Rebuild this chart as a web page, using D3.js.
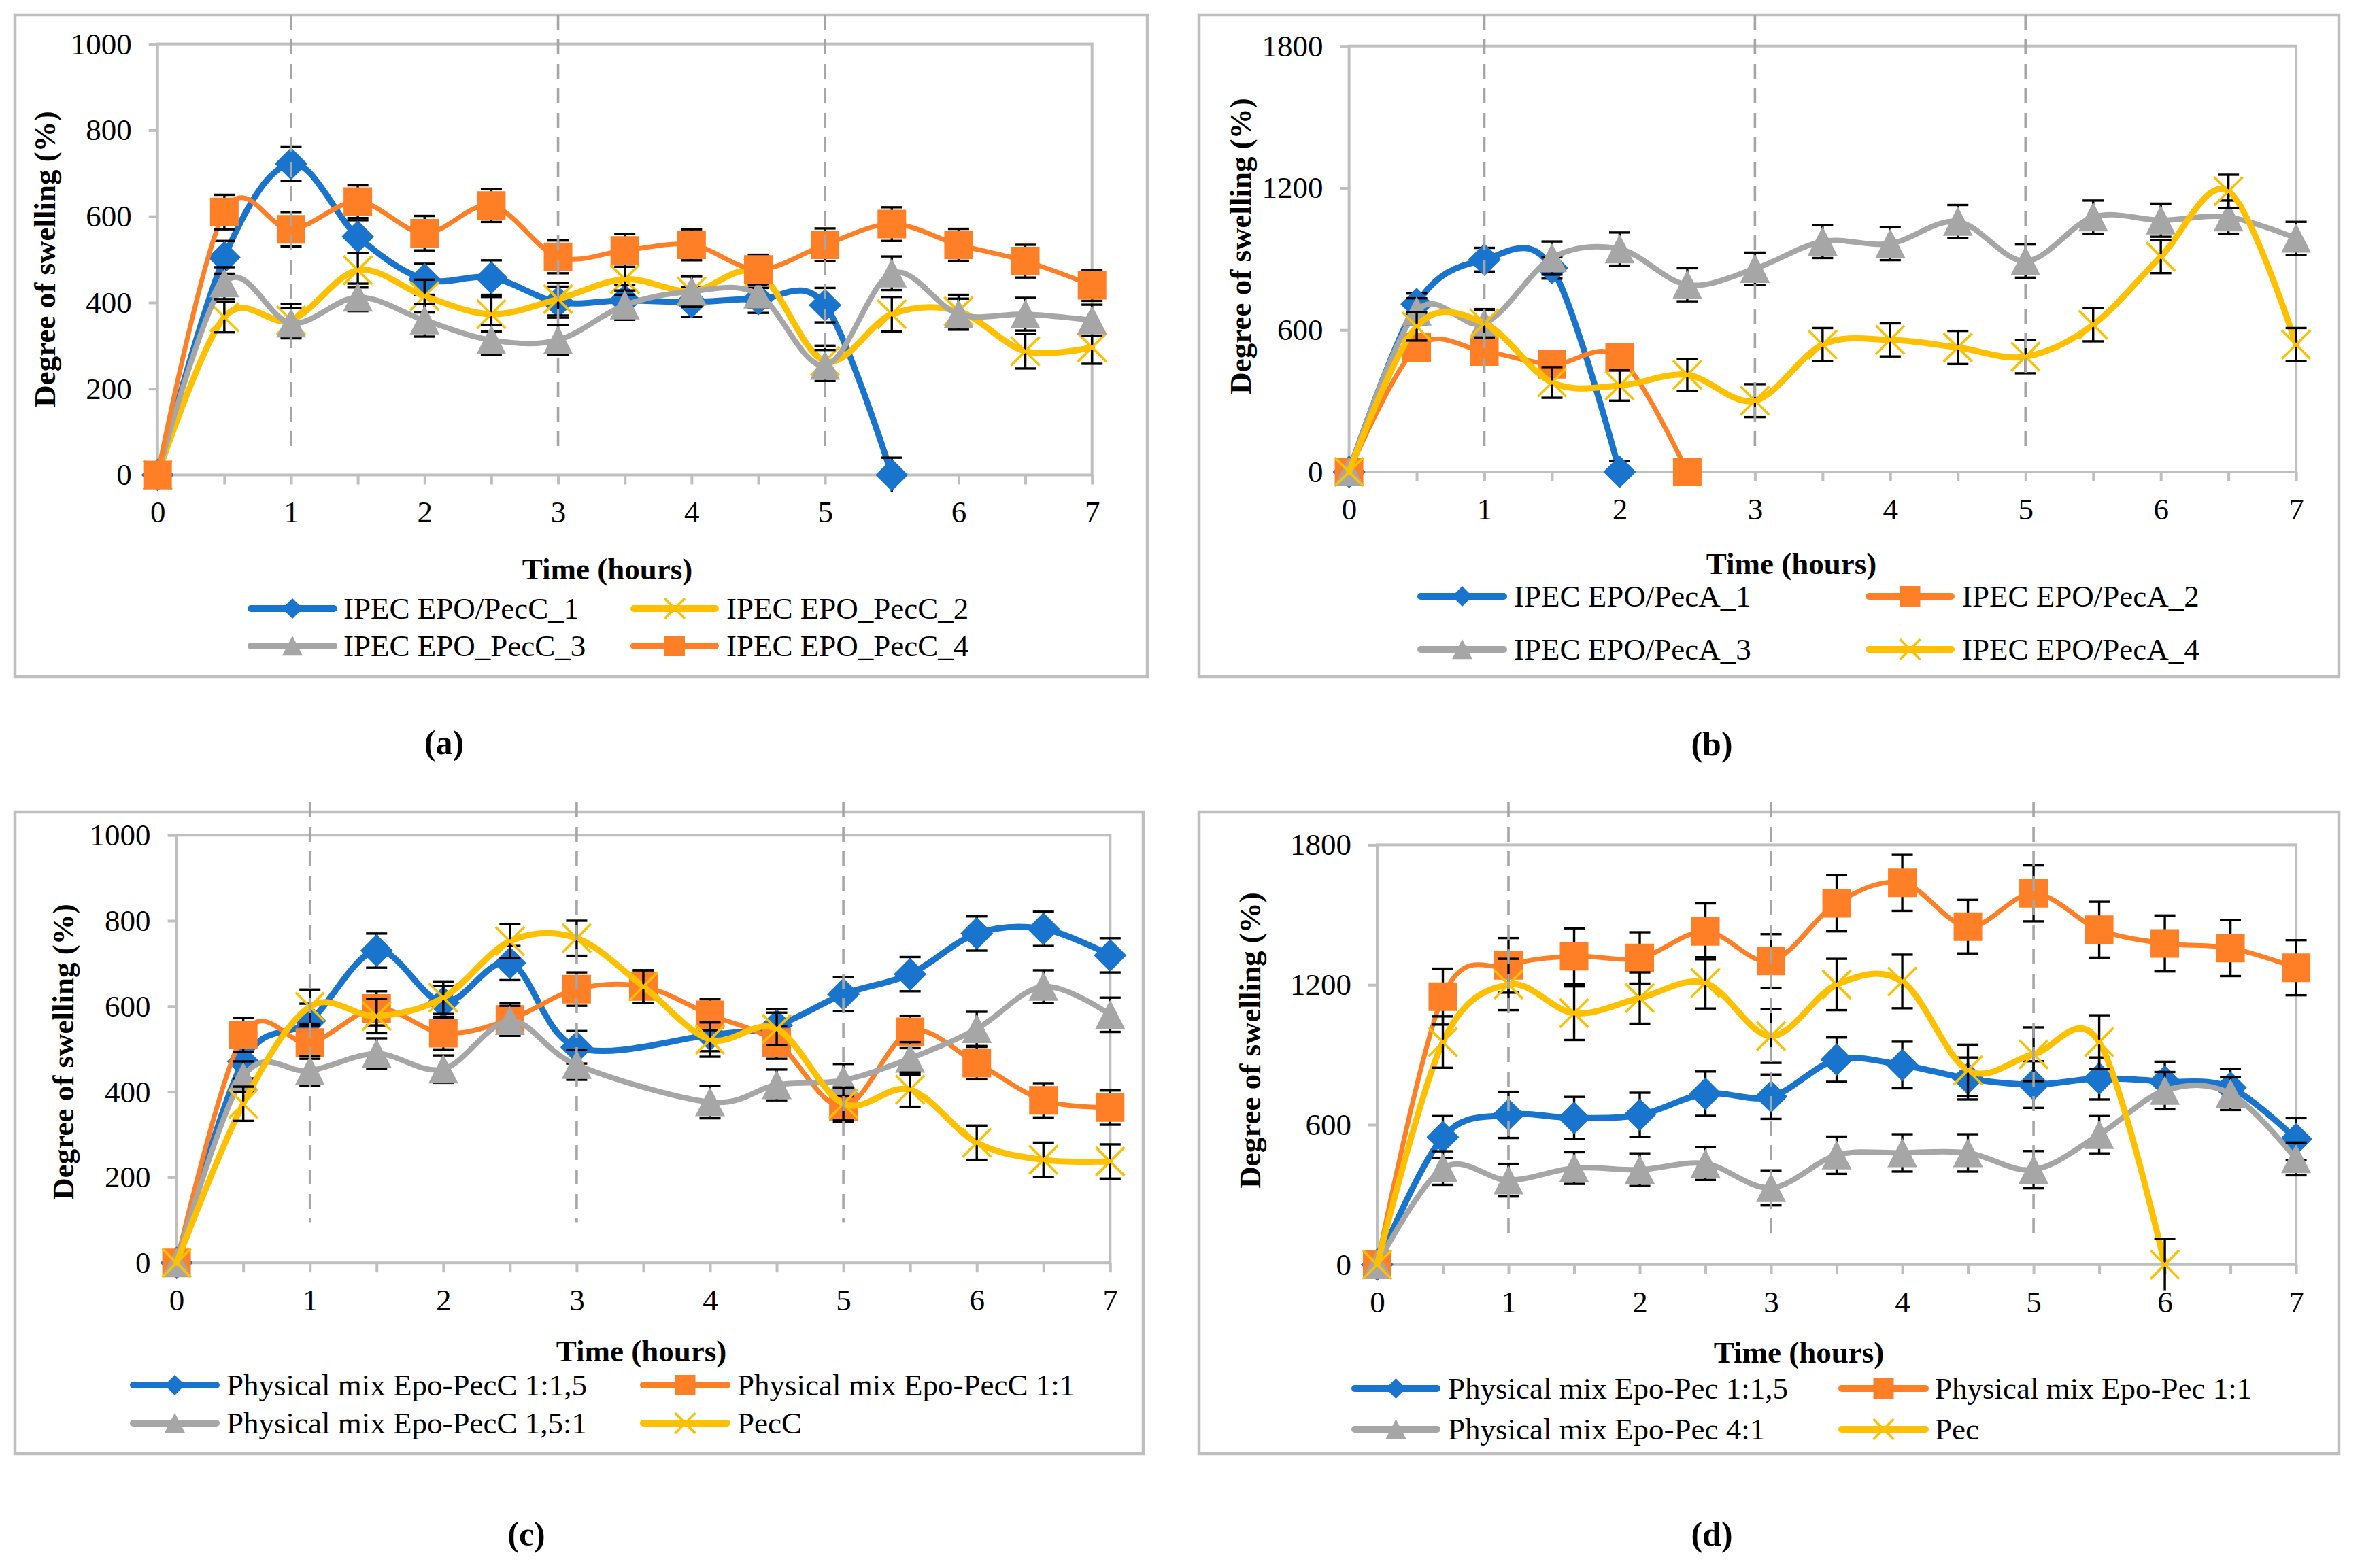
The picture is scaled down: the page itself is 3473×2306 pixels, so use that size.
<!DOCTYPE html>
<html><head><meta charset="utf-8">
<script src="https://cdn.jsdelivr.net/npm/d3@7"></script>
<style>body{margin:0;background:#fff}svg{display:block}</style>
</head><body><svg id="chart" width="3473" height="2306"></svg>
<script>
// ---------------- DATA ----------------
const timeHours = [0,0.5,1,1.5,2,2.5,3,3.5,4,4.5,5,5.5,6,6.5,7];
const xTickLabels = [0,1,2,3,4,5,6,7];
const yTicksAC = [0,200,400,600,800,1000];
const yTicksBD = [0,600,1200,1800];
const dashedHours = [1,3,5];

// (a) IPEC EPO / PecC
const aPecC1 = [0,505,722,553,454,458,401,405,401,408,394,0,null,null,null];
const aPecC1Err = [0,38,40,38,36,40,36,36,34,32,40,40,null,null,null];
const aPecC2 = [0,366,359,475,415,373,408,454,426,468,264,373,380,287,296];
const aPecC2Err = [0,35,38,40,38,40,38,36,36,34,36,40,38,40,38];
const aPecC3 = [0,445,352,412,359,313,313,394,426,419,254,468,373,373,359];
const aPecC3Err = [0,37,35,32,38,35,35,34,34,32,36,39,36,38,36];
const aPecC4 = [0,610,570,634,561,625,506,521,534,477,534,582,534,496,440];
const aPecC4Err = [0,40,40,38,40,38,38,38,36,34,38,39,37,38,36];
const legendA = ["IPEC EPO/PecC_1","IPEC EPO_PecC_2","IPEC EPO_PecC_3","IPEC EPO_PecC_4"];

// (b) IPEC EPO / PecA
const bPecA1 = [0,709,897,862,0,null,null,null,null,null,null,null,null,null,null];
const bPecA1Err = [30,45,50,45,45,null,null,null,null,null,null,null,null,null,null];
const bPecA2 = [0,526,509,455,483,0,null,null,null,null,null,null,null,null,null];
const bPecA2Err = [0,40,40,40,40,0,null,null,null,null,null,null,null,null,null];
const bPecA3 = [0,679,628,904,942,791,859,974,965,1058,891,1077,1064,1077,987];
const bPecA3Err = [0,55,55,70,70,70,68,70,70,70,70,70,70,70,70];
const bPecA4 = [0,615,628,378,365,410,301,538,558,526,487,622,910,1186,538];
const bPecA4Err = [0,60,60,65,64,67,70,70,70,70,70,70,70,70,70];
const legendB = ["IPEC EPO/PecA_1","IPEC EPO/PecA_2","IPEC EPO/PecA_3","IPEC EPO/PecA_4"];

// (c) Physical mix Epo-PecC
const cMix115 = [0,471,566,730,609,701,504,null,533,555,628,675,770,781,719];
const cMix115Err = [0,40,40,40,38,40,38,null,38,38,40,40,40,40,40];
const cMix11 = [0,533,515,595,537,569,640,646,580,515,365,540,467,380,363];
const cMix11Err = [0,40,38,40,38,38,39,38,36,38,36,38,38,40,40];
const cMix151 = [0,435,449,489,453,566,463,null,376,416,427,478,547,646,580];
const cMix151Err = [0,36,35,36,32,35,35,null,38,36,38,38,40,38,40];
const cPecC = [0,372,599,577,620,752,759,646,522,547,372,405,281,241,237];
const cPecCErr = [0,40,40,40,38,40,41,38,40,38,38,40,40,40,40];
const legendC = ["Physical mix Epo-PecC 1:1,5","Physical mix Epo-PecC 1:1","Physical mix Epo-PecC 1,5:1","PecC"];

// (d) Physical mix Epo-Pec
const dMix115 = [0,547,642,629,642,733,720,879,856,798,772,798,785,759,538];
const dMix115Err = [0,90,99,90,95,95,95,95,100,90,100,90,85,80,90];
const dMix11 = [0,1149,1283,1322,1315,1429,1302,1549,1637,1449,1592,1436,1377,1357,1273];
const dMix11Err = [0,120,117,120,110,120,115,120,120,115,120,120,120,120,118];
const dMix41 = [0,414,362,414,407,433,329,469,479,479,407,557,746,733,453];
const dMix41Err = [0,72,70,68,70,70,75,80,80,80,80,80,80,70,70];
const dPec = [0,954,1201,1078,1143,1208,980,1201,1214,833,902,954,0,null,null];
const dPecErr = [0,110,110,115,110,110,115,110,115,110,115,115,110,null,null];
const legendD = ["Physical mix Epo-Pec 1:1,5","Physical mix Epo-Pec 1:1","Physical mix Epo-Pec 4:1","Pec"];

const panelLabels = ["(a)","(b)","(c)","(d)"];
const xAxisTitle = "Time (hours)";
const yAxisTitle = "Degree of swelling (%)";

// ---------------- STYLE / LAYOUT ----------------
const COL = {blue:"#1874CD", orange:"#FF7F27", gray:"#A6A6A6", yellow:"#FFC000"};
const LW = {blue:9, orange:7, gray:8, yellow:9};
const FONT = "'Liberation Serif','Times New Roman',serif";

const panels = [
 { box:[22,22,1687,995], plot:[231.7,1605.7,698.5,64.6], yMax:1000, yTicks:yTicksAC, dashTop:22, dashEnd:60,
   series:[
    {v:aPecC1,e:aPecC1Err,c:"blue",m:"diamond",n:legendA[0]},
    {v:aPecC2,e:aPecC2Err,c:"yellow",m:"x",n:legendA[1]},
    {v:aPecC3,e:aPecC3Err,c:"gray",m:"triangle",n:legendA[2]},
    {v:aPecC4,e:aPecC4Err,c:"orange",m:"square",n:legendA[3]}],
   legCols:[[364,496,505],[927,1057,1068]], legRows:[895,950],
   xTitle:[893,838], yTitle:[67,381], label:[653,1093], labelText:panelLabels[0] },
 { box:[1763,22,3439,995], plot:[1983.6,3376.1,694,67.7], yMax:1800, yTicks:yTicksBD, dashTop:22, dashEnd:100,
   series:[
    {v:bPecA1,e:bPecA1Err,c:"blue",m:"diamond",n:legendB[0]},
    {v:bPecA2,e:bPecA2Err,c:"orange",m:"square",n:legendB[1]},
    {v:bPecA3,e:bPecA3Err,c:"gray",m:"triangle",n:legendB[2]},
    {v:bPecA4,e:bPecA4Err,c:"yellow",m:"x",n:legendB[3]}],
   legCols:[[2084,2216,2226],[2743,2874,2885]], legRows:[877,955],
   xTitle:[2634,830], yTitle:[1825,362], label:[2517,1095], labelText:panelLabels[1] },
 { box:[22,1194,1681,2138], plot:[259.6,1632.3,1857.2,1228.2], yMax:1000, yTicks:yTicksAC, dashTop:1180, dashEnd:95,
   series:[
    {v:cMix115,e:cMix115Err,c:"blue",m:"diamond",n:legendC[0]},
    {v:cMix11,e:cMix11Err,c:"orange",m:"square",n:legendC[1]},
    {v:cMix151,e:cMix151Err,c:"gray",m:"triangle",n:legendC[2]},
    {v:cPecC,e:cPecCErr,c:"yellow",m:"x",n:legendC[3]}],
   legCols:[[191,323,333],[941,1074,1084]], legRows:[2037,2093],
   xTitle:[943,1988], yTitle:[94,1547], label:[774,2257], labelText:panelLabels[2] },
 { box:[1763,1194,3439,2138], plot:[2025,3376.1,1859.8,1242.4], yMax:1800, yTicks:yTicksBD, dashTop:1180, dashEnd:134,
   series:[
    {v:dMix115,e:dMix115Err,c:"blue",m:"diamond",n:legendD[0]},
    {v:dMix11,e:dMix11Err,c:"orange",m:"square",n:legendD[1]},
    {v:dMix41,e:dMix41Err,c:"gray",m:"triangle",n:legendD[2]},
    {v:dPec,e:dPecErr,c:"yellow",m:"x",n:legendD[3]}],
   legCols:[[1987,2118,2129],[2703,2836,2845]], legRows:[2042,2102],
   xTitle:[2645,1990], yTitle:[1839,1530], label:[2517,2257], labelText:panelLabels[3] }
];

// ---------------- DRAW ----------------
const svg = d3.select("#chart").attr("font-family", FONT);
svg.append("rect").attr("width",3473).attr("height",2306).attr("fill","#fff");

function markerPath(type, s){
  const h = s/2;
  if (type==="diamond") return `M0,${-h}L${h},0L0,${h}L${-h},0Z`;
  if (type==="square") return `M${-h},${-h}H${h}V${h}H${-h}Z`;
  if (type==="triangle") return `M0,${-h}L${h},${h*0.95}L${-h},${h*0.95}Z`;
  return `M${-h},${-h}L${h},${h}M${h},${-h}L${-h},${h}`;
}
function marker(g, type, color, s, cx, cy){
  const p = g.append("path").attr("d", markerPath(type, s)).attr("transform", `translate(${cx},${cy})`);
  if (type==="x") p.attr("fill","none").attr("stroke",color).attr("stroke-width",3.6);
  else p.attr("fill",color);
}
const MSIZE = {diamond:48, square:42, triangle:44, x:42};

panels.forEach(P => {
  const g = svg.append("g");
  const [bx0,by0,bx1,by1] = P.box;
  g.append("rect").attr("x",bx0).attr("y",by0).attr("width",bx1-bx0).attr("height",by1-by0)
    .attr("fill","#fff").attr("stroke","#BFBFBF").attr("stroke-width",4.5);

  const [px0,px1,py0,py1] = P.plot;
  const x = d3.scaleLinear().domain([0,7]).range([px0,px1]);
  const y = d3.scaleLinear().domain([0,P.yMax]).range([py0,py1]);

  // plot area border
  g.append("rect").attr("x",px0).attr("y",py1).attr("width",px1-px0).attr("height",py0-py1)
    .attr("fill","none").attr("stroke","#BFBFBF").attr("stroke-width",4);

  // axes
  const xa = g.append("g").attr("transform",`translate(0,${py0})`)
    .call(d3.axisBottom(x).tickValues(timeHours).tickSize(14).tickPadding(24)
      .tickFormat(d => xTickLabels.includes(d) ? String(d) : ""));
  const ya = g.append("g").attr("transform",`translate(${px0},0)`)
    .call(d3.axisLeft(y).tickValues(P.yTicks).tickSize(13).tickPadding(25).tickFormat(d3.format("d")));
  [xa,ya].forEach(a => {
    a.select(".domain").remove();
    a.selectAll(".tick line").attr("stroke","#BFBFBF").attr("stroke-width",4);
    a.selectAll(".tick text").attr("font-family",FONT).attr("font-size",45).attr("fill","#000");
  });

  // series
  const pts = P.series.map(s => timeHours.map((t,i)=>({t, v:s.v[i], e:s.e[i]})).filter(d => d.v !== null));
  const line = d3.line().x(d=>x(d.t)).y(d=>y(d.v)).curve(d3.curveCardinal.tension(0));
  P.series.forEach((s,k) => {
    const data = pts[k];
    g.append("path").attr("d", line(data)).attr("fill","none")
      .attr("stroke", COL[s.c]).attr("stroke-width", LW[s.c])
      .attr("stroke-linejoin","round").attr("stroke-linecap","round");
    const eb = g.append("g").attr("stroke","#000").attr("stroke-width",3.4);
    data.forEach(d => {
      if (!d.e) return;
      const cx = x(d.t), yt = y(d.v + d.e), yb = y(Math.max(d.v - d.e, 0));
      const ybb = y(d.v - d.e);
      eb.append("line").attr("x1",cx).attr("x2",cx).attr("y1",yt).attr("y2",ybb);
      eb.append("line").attr("x1",cx-15.5).attr("x2",cx+15.5).attr("y1",yt).attr("y2",yt);
      if (d.v - d.e >= 0) eb.append("line").attr("x1",cx-15.5).attr("x2",cx+15.5).attr("y1",ybb).attr("y2",ybb);
    });
    data.forEach(d => marker(g, s.m, COL[s.c], MSIZE[s.m], x(d.t), y(d.v)));
  });

  // dashed hour lines
  dashedHours.forEach(h => {
    g.append("line").attr("x1",x(h)).attr("x2",x(h)).attr("y1",P.dashTop).attr("y2",y(P.dashEnd))
      .attr("stroke","#A6A6A6").attr("stroke-width",3.6).attr("stroke-dasharray","22,14");
  });

  // axis titles
  g.append("text").attr("x",P.xTitle[0]).attr("y",P.xTitle[1]+14).attr("text-anchor","middle")
    .attr("font-size",45).attr("font-weight","bold").text(xAxisTitle);
  g.append("text").attr("transform",`translate(${P.yTitle[0]+14},${P.yTitle[1]}) rotate(-90)`)
    .attr("text-anchor","middle").attr("font-size",45).attr("font-weight","bold").text(yAxisTitle);

  // legend
  P.series.forEach((s,k) => {
    const col = P.legCols[k%2], ry = P.legRows[Math.floor(k/2)];
    g.append("line").attr("x1",col[0]+5).attr("x2",col[1]-5).attr("y1",ry).attr("y2",ry)
      .attr("stroke",COL[s.c]).attr("stroke-width",10).attr("stroke-linecap","round");
    marker(g, s.m, COL[s.c], 30, (col[0]+col[1])/2, ry);
    g.append("text").attr("x",col[2]).attr("y",ry+15).attr("font-size",45).text(s.n);
  });

  // panel label
  svg.append("text").attr("x",P.label[0]).attr("y",P.label[1]+16).attr("text-anchor","middle")
    .attr("font-size",50).attr("font-weight","bold").text(P.labelText);
});
</script></body></html>
